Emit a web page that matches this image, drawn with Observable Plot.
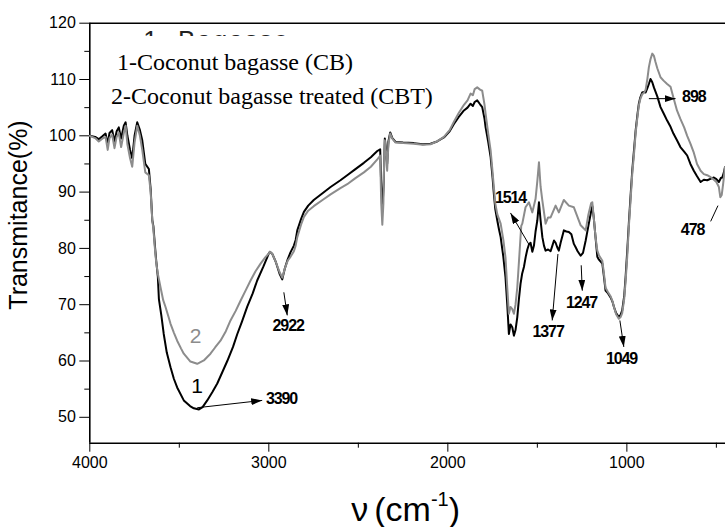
<!DOCTYPE html>
<html><head><meta charset="utf-8">
<script src="https://cdn.jsdelivr.net/npm/d3@7"></script>
<script src="https://cdn.jsdelivr.net/npm/@observablehq/plot@0.6"></script>
<style>body{margin:0;background:#fff;}</style>
</head><body><div id="chart"></div>
<script>
// Curve 1: Coconut bagasse (CB) – black
const wnCB = [4000,3970,3950,3930,3912,3900,3890,3875,3862,3850,3838,3825,3810,3800,3790,3775,3763,3750,3735,3720,3707,3690,3670,3660,3651,3645,3635,3629,3620,3614,3600,3587,3570,3549,3530,3512,3475,3440,3419,3390,3370,3344,3315,3288,3260,3232,3200,3176,3150,3121,3090,3065,3030,3000,2994,2980,2960,2940,2925,2910,2895,2879,2860,2850,2841,2820,2804,2780,2749,2700,2655,2600,2562,2520,2469,2430,2394,2378,2372,2365,2358,2352,2345,2339,2332,2322,2310,2292,2250,2190,2140,2097,2060,2022,1990,1966,1940,1910,1890,1873,1860,1850,1836,1820,1808,1795,1789,1775,1761,1750,1743,1735,1724,1715,1705,1690,1678,1668,1659,1650,1640,1631,1622,1612,1603,1594,1585,1575,1565,1556,1547,1538,1528,1519,1510,1500,1491,1482,1472,1463,1454,1440,1426,1416,1407,1398,1389,1380,1370,1352,1338,1324,1310,1296,1286,1275,1258,1245,1230,1215,1200,1193,1185,1175,1165,1156,1137,1128,1119,1105,1091,1080,1072,1060,1045,1035,1026,1015,1007,998,989,980,970,960,951,940,933,925,914,905,895,885,877,868,858,849,830,812,795,775,756,740,720,701,680,663,645,626,608,588,570,551,530,514,500,486,475,467,458,452];
const tCB = [100,99.8,99.4,99.9,100.4,98.5,100.5,101,99,100.8,101.5,99.5,101.8,102.4,100,97.5,96,100,102.4,101,99.2,95,94.1,90.5,85,84,80,77.8,75,71,68,64.8,61.5,58.9,56.8,55.3,53,52,51.6,51.4,51.8,53,54.5,56,58,60,62.5,64.8,67,69.6,72,74.3,76.8,79.1,79.4,79,77.5,75.5,74.5,76.5,78,79.3,80.5,81.5,83.2,85.2,86.5,87.6,88.6,89.8,90.9,92.1,93,94,95.2,96.2,97.3,97.6,91,87,92,99.5,97.5,95,99,100.6,99.6,98.9,98.8,98.7,98.5,98.6,99,99.7,100.8,102.1,103.3,104.5,105,105.7,105.3,106,106.3,105.6,105.1,103,101.5,99,96.2,92.5,89.7,87,85,83.5,82,78.5,74.9,70,64.8,66.5,66,64.5,65.5,67.8,71,73.7,75.5,76.7,78.5,79.8,80.7,81,79.4,80.5,83,85,88.2,85,82,80.5,79.6,79.8,79.5,80.5,81.4,81,80.2,79.6,81,83.2,83,82.9,82.5,80.8,80.2,79.5,78.7,79.2,81.4,84,86.5,87.5,85.5,82,78.5,78,77.3,75,72.5,72,71.3,70.5,69.6,68.5,67.8,68.2,69,71.5,74.9,79.5,84.4,89,93.8,97.5,100.9,104,105.7,106.8,107.7,107.8,107.7,108.5,109.2,110.1,109.5,108.6,107,105.1,104,102.7,101.6,100.4,99.2,98,97.2,96.5,95,93.8,92.8,91.8,92.2,92.1,92.4,92.6,92.3,91.8,92.5,92.6,93.5,94.4];

// Curve 2: Coconut bagasse treated (CBT) – grey
const wnCBT = [4000,3970,3950,3930,3912,3900,3890,3875,3862,3850,3838,3825,3810,3800,3790,3775,3763,3750,3735,3720,3707,3690,3670,3660,3651,3645,3635,3629,3620,3605,3590,3577,3560,3549,3530,3512,3490,3475,3438,3400,3363,3326,3300,3270,3240,3214,3185,3158,3130,3102,3075,3046,3020,3000,2994,2980,2960,2940,2925,2910,2895,2879,2860,2850,2841,2820,2804,2780,2749,2700,2655,2600,2562,2520,2469,2430,2394,2384,2378,2372,2366,2360,2355,2352,2345,2339,2332,2322,2310,2292,2250,2190,2140,2097,2060,2022,1990,1966,1940,1910,1890,1873,1860,1850,1836,1820,1808,1795,1789,1775,1761,1750,1743,1735,1724,1715,1705,1690,1678,1668,1659,1650,1640,1631,1622,1612,1600,1590,1584,1566,1547,1528,1510,1500,1491,1482,1472,1454,1440,1426,1398,1380,1352,1324,1296,1258,1230,1215,1200,1193,1185,1175,1165,1156,1137,1128,1119,1105,1091,1080,1072,1060,1045,1035,1026,1015,1007,998,989,980,970,960,951,940,933,925,914,905,895,885,877,868,858,849,840,830,812,795,775,756,740,720,701,680,663,645,626,608,588,570,551,530,514,500,486,478,470,462,452];
const tCBT = [100,99.6,99,99.5,99.8,97.5,99.6,100.2,97.8,99.8,100.5,98,100.5,101.8,98.5,96,94.5,98.8,101.8,100,97.5,93.5,93,90,85,83.5,79.5,77.5,75.5,73.1,70.8,69.6,67.8,66.6,65,63.6,62.2,61.3,59.9,59.5,60.1,61.3,62.4,63.6,65.3,67.2,68.9,70.7,72.5,74.3,75.9,77.3,78.4,79.1,79.4,79,77.5,75.8,74.8,76.5,77.8,78.5,79.5,80.5,82,84.2,85.6,86.7,87.5,88.6,89.6,90.7,91.4,92.4,93.5,94.5,95.8,96.2,96.5,88,84.2,88,97,99.2,97,93.8,98.5,100.4,99.5,98.8,98.7,98.6,98.4,98.5,99,99.8,101,102.5,104,105.5,106.3,107.5,107.2,108.3,108.6,108.2,108,105.5,103.9,100.5,97.4,93.5,90.9,88,86.1,85.3,84.4,81.5,78.4,73,68.4,69.6,69.2,68.4,70,73.1,79,84,84.4,87.3,88.2,86.4,88.8,92,95.3,91,88.5,84.4,85.5,85.5,87.6,86.4,88.6,87.6,87.3,84.1,83.2,86,88,88.2,85.5,82,79.6,78.8,77.8,75.5,73,72.2,71.5,70.6,69.6,68.3,67.5,67.8,68.5,71,74.2,78.5,83.8,88.2,93.2,96.8,100.5,103.6,105.4,106.5,107.4,107.6,108.2,110.2,112.2,113.6,114.6,114.2,113.1,112,110.4,109.8,109.2,108.7,106.8,104.5,103,101.5,100,98.6,97,95,93.8,93.2,93,92.6,92.2,91.8,90.9,89.1,89.5,91.5,94.4];

// Axis ticks
const xMajor = [4000, 3000, 2000, 1000];
const xMinor = [3500, 2500, 1500, 500];
const yMajor = [50, 60, 70, 80, 90, 100, 110, 120];
const yMinor = [55, 65, 75, 85, 95, 105, 115];

// Peak labels
const peakText = ["3390", "2922", "1514", "1377", "1247", "1049", "898", "478"];
const peakX    = [2929, 2892, 1650, 1440, 1253, 1030, 626, 633];
const peakY    = [53.2, 66.3, 89.0, 65.1, 70.3, 60.4, 106.9, 83.3];

// Arrows (from curve to label)
const arrX1 = [3400, 2916, 1547, 1385, 1255, 1039, 877];
const arrY1 = [51.7, 72.2, 80.7, 79.0, 77.0, 67.2, 106.6];
const arrX2 = [3037, 2897, 1650, 1417, 1249, 1017, 728];
const arrY2 = [53.0, 68.1, 86.3, 67.2, 72.5, 62.5, 106.6];
// plain pointer line for 478
const lineX1 = [491], lineY1 = [87.6], lineX2 = [532], lineY2 = [84.8];

// Curve numbers
const curveNum = ["1", "2"];
const curveNumX = [3400, 3409];
const curveNumY = [55.6, 64.4];
const curveColor = ["#000000", "#8c8c8c"];

// Legend lines
const legendText = ["1-Coconut bagasse (CB)", "2-Coconut bagasse treated (CBT)"];
const legendX = [3848, 3882];
const legendY = [111.7, 105.7];

// Partly hidden header behind the legend
const hiddenHeader = "1- Bagasse";

const cb = wnCB.map((w, i) => ({wn: w, t: tCB[i]}));
const cbt = wnCBT.map((w, i) => ({wn: w, t: tCBT[i]}));
const peaks = peakText.map((s, i) => ({s, x: peakX[i], y: peakY[i]}));
const arrows = arrX1.map((x, i) => ({x1: x, y1: arrY1[i], x2: arrX2[i], y2: arrY2[i]}));
const pointers = lineX1.map((x, i) => ({x1: x, y1: lineY1[i], x2: lineX2[i], y2: lineY2[i]}));
const nums = curveNum.map((s, i) => ({s, x: curveNumX[i], y: curveNumY[i], c: curveColor[i]}));
const legend = legendText.map((s, i) => ({s, x: legendX[i], y: legendY[i]}));

const YMIN = 45.4, YMAX = 120, XL = 4000, XR = 449;

const chart = Plot.plot({
  width: 725, height: 527,
  marginLeft: 89.3, marginRight: 0, marginTop: 22.7, marginBottom: 84.3,
  x: {domain: [XL, XR]},
  y: {domain: [YMIN, YMAX]},
  style: {fontFamily: "'Liberation Sans', Arial, sans-serif", fontSize: "16px", color: "black", background: "white", overflow: "visible"},
  marks: [
    Plot.axisX({ticks: xMajor, tickSize: 9, tickPadding: 4, fontSize: 16, tickFormat: d => String(d), label: null}),
    Plot.axisX({ticks: xMinor, tickSize: 5, tickFormat: () => "", label: null}),
    Plot.axisY({ticks: yMajor, tickSize: 10, tickPadding: 4, fontSize: 16, tickFormat: d => String(d), label: null}),
    Plot.axisY({ticks: yMinor, tickSize: 5, tickFormat: () => "", label: null}),
    Plot.ruleX([XL], {stroke: "black", strokeWidth: 1.6}),
    Plot.ruleY([YMIN], {stroke: "black", strokeWidth: 1.6}),
    Plot.ruleY([YMAX], {stroke: "black", strokeWidth: 1.6}),
    Plot.line(cb, {x: "wn", y: "t", stroke: "black", strokeWidth: 2}),
    Plot.line(cbt, {x: "wn", y: "t", stroke: "#8c8c8c", strokeWidth: 2}),
    Plot.link(arrows, {x1: "x1", y1: "y1", x2: "x2", y2: "y2", stroke: "black", strokeWidth: 1}),
    Plot.link(pointers, {x1: "x1", y1: "y1", x2: "x2", y2: "y2", stroke: "black", strokeWidth: 1}),
    Plot.text(peaks, {x: "x", y: "y", text: "s", fontSize: 16, fontWeight: "bold", fill: "black", textAnchor: "middle", lineAnchor: "middle"}),
    Plot.text(nums, {x: "x", y: "y", text: "s", fontSize: 21, fill: "c", textAnchor: "middle", lineAnchor: "middle"}),
    Plot.text(legend, {x: "x", y: "y", text: "s", fontSize: 24, textAnchor: "start", lineAnchor: "bottom", fontFamily: "'Liberation Serif', 'Times New Roman', serif", fill: "black"})
  ]
});

document.getElementById("chart").appendChild(chart);
const svg = d3.select(chart);
const defs = svg.append("defs");
defs.append("marker").attr("id", "ah").attr("markerUnits", "userSpaceOnUse")
  .attr("markerWidth", 11).attr("markerHeight", 7).attr("refX", 11).attr("refY", 3.5)
  .attr("orient", "auto").append("path").attr("d", "M0,0L11,3.5L0,7Z").attr("fill", "black");
// first link mark = arrows with filled heads
const linkGroups = svg.selectAll('g[aria-label="link"]').nodes();
if (linkGroups.length) d3.select(linkGroups[0]).selectAll("path, line").attr("marker-end", "url(#ah)");
// first text mark = peak labels (slightly condensed)
const textGroups = svg.selectAll('g[aria-label="text"]').nodes();
if (textGroups.length) d3.select(textGroups[0]).attr("letter-spacing", "-1.1");

// partly hidden header (only the top of its glyphs shows above the legend box)
defs.append("clipPath").attr("id", "hc").append("rect").attr("x", 0).attr("y", 24.5).attr("width", 725).attr("height", 11.5);
const xs = chart.scale("x");
svg.append("g").attr("clip-path", "url(#hc)").append("text")
  .attr("x", xs.apply(3290)).attr("y", 49).attr("font-size", 26)
  .attr("font-family", "'Liberation Sans', Arial, sans-serif").attr("fill", "#222")
  .attr("letter-spacing", "1.5").text(hiddenHeader);

// Axis titles
svg.append("text").attr("transform", "translate(27,215) rotate(-90)")
  .attr("text-anchor", "middle").attr("font-size", 25).attr("font-family", "'Liberation Sans', Arial, sans-serif")
  .attr("fill", "black").text("Transmitance(%)");
const xl = svg.append("text").attr("x", 460).attr("y", 521).attr("text-anchor", "end")
  .attr("font-size", 34).attr("font-family", "'Liberation Sans', Arial, sans-serif").attr("fill", "black");
xl.append("tspan").text("ν");
xl.append("tspan").attr("dx", 6).text("(cm");
xl.append("tspan").attr("font-size", 20).attr("dy", -15).text("-1");
xl.append("tspan").attr("dy", 15).text(")");
</script></body></html>
